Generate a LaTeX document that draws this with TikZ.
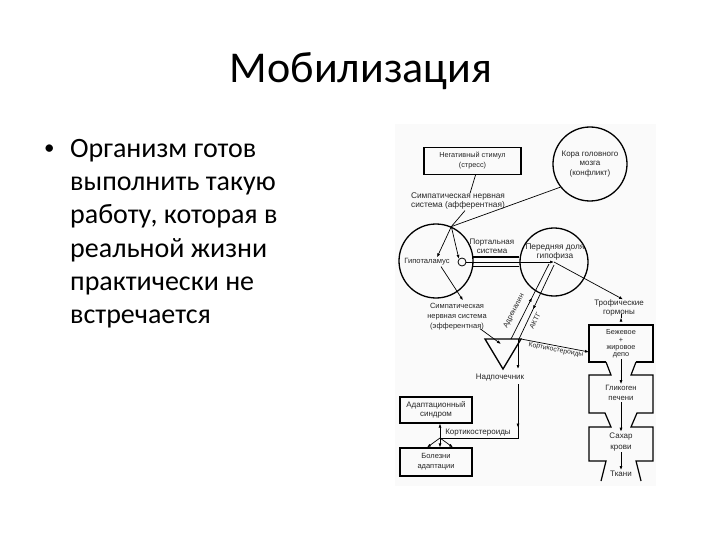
\documentclass[tikz,border=0pt]{standalone}
\usepackage{fontspec}
\setmainfont{Carlito}
\newfontfamily\diagfont{Liberation Sans}
\usetikzlibrary{arrows.meta,calc,decorations.markings}
\newcommand{\dfs}[2]{\diagfont\fontsize{#1}{#2}\selectfont}
\begin{document}
\begin{tikzpicture}[x=1pt,y=-1pt,
  lbl/.style={font=\dfs{8}{9.4}, align=center, inner sep=1pt, text=black!85},
  circ/.style={circle, draw, line width=1.3pt, inner sep=0pt},
  boxn/.style={draw, line width=1.2pt},
  arr/.style={-{Latex[length=4pt,width=3pt]}, line width=0.7pt},
  ln/.style={line width=0.7pt},
  thk/.style={line width=1.2pt},
  midarr/.style={postaction=decorate, decoration={markings, mark=at position #1 with {\arrow{Latex[length=4pt,width=3pt]}}}},
  bul/.style={anchor=base west, font=\fontsize{28}{33}\selectfont, inner sep=0pt}
]
\useasboundingbox (0,0) rectangle (720,540);
\fill[black!2] (395,124) rectangle (656,486);

% title
\node[anchor=base, font=\fontsize{44}{50}\selectfont, inner sep=0pt] (title) at (361,83) {Мобилизация};

% bullet text
\node[anchor=base west, font=\fontsize{21}{25}\selectfont, inner sep=0pt] (b0) at (44,155) {•};
\node[bul] (l1) at (70,158) {Организм готов};
\node[bul] (l2) at (70,191) {выполнить такую};
\node[bul] (l3) at (70,224) {работу, которая в};
\node[bul] (l4) at (70,257) {реальной жизни};
\node[bul] (l5) at (70,290) {практически не};
\node[bul] (l6) at (70,323) {встречается};

% top part
\node[boxn, lbl, font=\dfs{7.3}{10}, minimum width=97pt, minimum height=27pt] (stim) at (472.5,161) {Негативный стимул\\(стресс)};
\node[circ, lbl, minimum size=74pt] (kora) at (590,164) {Кора головного\\мозга\\(конфликт)};
\node[lbl, font=\dfs{8.3}{9.3}] (aff) at (458,201) {Симпатическая нервная\\система (афферентная)};

% hypothalamus / pituitary
\node[circ, minimum size=74pt] (hypo) at (436,261) {};
\node[lbl, font=\dfs{7.6}{9}] (hypot) at (427,262) {Гипоталамус};
\node[circ, minimum size=68pt] (pit) at (554,262) {};
\node[lbl, font=\dfs{8.3}{9.6}] (pitt) at (555,252) {Передняя доля\\гипофиза};
\node[lbl] (port) at (492,246) {Портальная\\система};
\node[circle, draw, line width=0.8pt, minimum size=8pt, inner sep=0pt] (sm) at (462,262) {};

\draw[thk] (hypo.6) -- (hypo.6 -| pit.west);
\draw[thk] (hypo.-9) -- (hypo.-9 -| pit.west);
\draw[arr] (sm.east) -- (pit.center);

\coordinate (J) at (hypo.66);
\draw[ln] (kora.218) -- (J);
\draw[ln] ($(stim.south)+(3,0)$) -- ($(aff.north)+(12,2)$);
\draw[ln] ($(aff.south)+(7,0)$) -- (J);
\draw[arr] (J) -- ($(hypot.north)+(10,0)$);
\draw[arr] (J) -- (sm.north west);

% efferent
\node[lbl, font=\dfs{7.5}{10}] (eff) at (457,317) {Симпатическая\\нервная система\\(эфферентная)};
\draw[arr] ($(hypot.south)+(14,0)$) -- ($(eff.north)+(6,-2)$);

% adrenal
\coordinate (t1) at (485,339);
\coordinate (t2) at (521,339);
\coordinate (t3) at (503,369);
\draw[line width=1.3pt, line join=miter] (t1) -- (t2) -- (t3) -- cycle;
\node[lbl] (adrt) at (500,378) {Надпочечник};
\coordinate (tin) at (501,344);
\draw[arr] ($(eff.south east)+(-8,-3)$) -- (tin);

\coordinate (a1) at (511,339);
\coordinate (a2) at (519,339);
\draw[ln, midarr=0.55] (a1) -- ($(pit.center)+(-5,2)$);
\draw[ln, midarr=0.6] ($(pit.center)+(0,3)$) -- (a2);
\node[lbl, font=\dfs{7.3}{8}, rotate=63] (adrl) at (514,311) {Адреналин};
\node[lbl, font=\dfs{7}{8}, rotate=63] (acth) at (535,321) {АКТГ};

% trophic
\node[lbl] (troph) at (619,308) {Трофические\\гормоны};
\draw[arr] (pit.center) -- ($(troph.north)+(4,1)$);

% right column
\draw[thk] (606,362) -- (589,362) -- (589,325) -- (653,325) -- (653,362) -- (636,362);
\draw[thk] (606,362) -- (611,375) -- (589,375) -- (589,413) -- (605,413) -- (611,427) -- (589,427) -- (589,461) -- (606,461) -- (601,481);
\draw[thk] (636,362) -- (631,375) -- (653,375) -- (653,413) -- (637,413) -- (631,427) -- (653,427) -- (653,461) -- (636,461) -- (641,481);
\node[lbl, font=\dfs{7.3}{7.3}] (depo) at (621,344) {Бежевое\\+\\жировое\\депо};
\node[lbl, font=\dfs{7.7}{10}] (glik) at (621,393) {Гликоген\\печени};
\node[lbl, font=\dfs{8}{11}] (sahar) at (621,442) {Сахар\\крови};
\node[lbl] (tkani) at (621,474) {Ткани};
\draw[arr] ($(troph.south)+(2,0)$) -- ($(troph.south)+(2,0)$ |- 0,325);
\draw[arr] (depo.south) -- (glik.north);
\draw[arr] (glik.south) -- (sahar.north);
\draw[arr] (sahar.south) -- (tkani.north);

% corticosteroids
\coordinate (b1w) at (589,352);
\draw[arr] (t2) -- (b1w);
\node[lbl, font=\dfs{6.8}{8}, rotate=-11] (ks1) at (556,350) {Кортикостероиды};

\coordinate (v1) at (518,339);
\coordinate (v2) at (518,369);
\coordinate (v3) at (518,384);
\coordinate (corner) at (518,438);
\coordinate (K) at (440,438);
\draw[arr] (v1) -- (v2);
\draw[ln, midarr=0.33] (v3) -- (corner) -- (K);
\node[lbl] (ks2) at (478,432.5) {Кортикостероиды};

\node[boxn, lbl, minimum width=72pt, minimum height=26pt] (adapt) at (436,410) {Адаптационный\\синдром};
\node[boxn, lbl, font=\dfs{7.5}{10}, minimum width=72pt, minimum height=28pt] (bol) at (436,462) {Болезни\\адаптации};
\draw[arr] (K) -- (adapt.south -| K);
\draw[arr] (K) -- ($(bol.north)+(-9,0)$);
\draw[arr] (K) -- (bol.north -| K);
\draw[arr] (K) -- ($(bol.north)+(17,0)$);
\end{tikzpicture}
\end{document}
